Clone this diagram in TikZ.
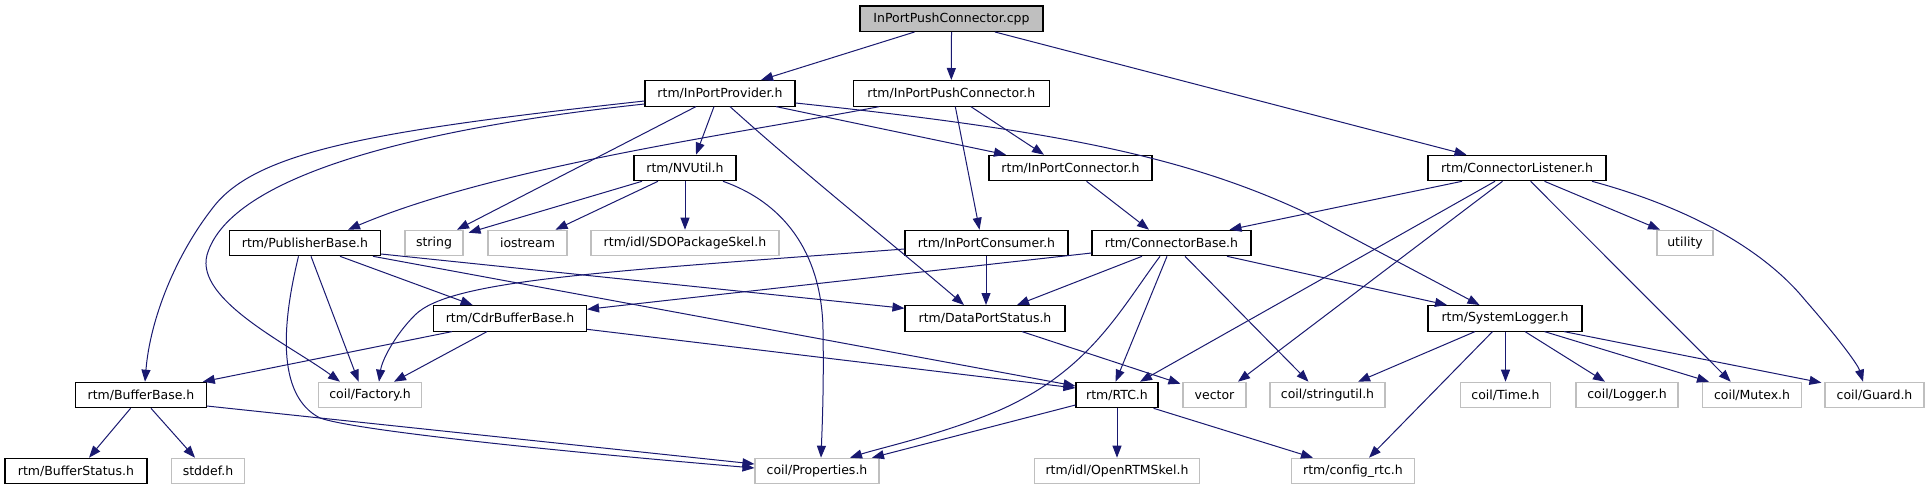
\documentclass[tikz,border=0pt]{standalone}
\usepackage{fontspec}
\newfontfamily\dvfont{DejaVu Sans}
\usetikzlibrary{arrows.meta}
\definecolor{mblue}{HTML}{191970}
\definecolor{extgray}{HTML}{BFBFBF}
\begin{document}
\begin{tikzpicture}[x=1pt,y=-1pt,
  box/.style={line width=1.1pt, minimum height=25.5pt, inner sep=0pt, font=\dvfont\fontsize{12.5}{15}\selectfont, text=black},
  doc/.style={box, draw=black, fill=white},
  ext/.style={box, draw=extgray, fill=white},
  root/.style={box, draw=black, fill=extgray},
  dep/.style={draw=mblue, line width=1pt, -{Triangle[length=12pt,width=9pt]}}]
\useasboundingbox[fill=white] (0,0) rectangle (1929,485);
% nodes
\node[root, minimum width=183pt] (cpp) at (951.5,18.7) {InPortPushConnector.cpp};
\node[doc, minimum width=150pt] (ipp) at (720,93.3) {rtm/InPortProvider.h};
\node[doc, minimum width=195.5pt] (ipch) at (951.3,93.3) {rtm/InPortPushConnector.h};
\node[doc, minimum width=102pt] (nvu) at (685,168) {rtm/NVUtil.h};
\node[doc, minimum width=163pt] (ipc) at (1070.5,168) {rtm/InPortConnector.h};
\node[doc, minimum width=178pt] (cl) at (1517,168) {rtm/ConnectorListener.h};
\node[doc, minimum width=151pt] (pb) at (305,243) {rtm/PublisherBase.h};
\node[ext, minimum width=58pt] (str) at (434,243) {string};
\node[ext, minimum width=79pt] (ios) at (527.5,243) {iostream};
\node[ext, minimum width=188pt] (sdo) at (685,243) {rtm/idl/SDOPackageSkel.h};
\node[doc, minimum width=163pt] (icons) at (986.5,243) {rtm/InPortConsumer.h};
\node[doc, minimum width=159pt] (cb) at (1171.5,243) {rtm/ConnectorBase.h};
\node[ext, minimum width=56pt] (util) at (1685,243) {utility};
\node[doc, minimum width=153pt] (cdr) at (510,318.3) {rtm/CdrBufferBase.h};
\node[doc, minimum width=160pt] (dps) at (985,318.3) {rtm/DataPortStatus.h};
\node[doc, minimum width=154pt] (sl) at (1505,318.3) {rtm/SystemLogger.h};
\node[doc, minimum width=130.5pt] (bb) at (141,395) {rtm/BufferBase.h};
\node[ext, minimum width=103pt] (fac) at (370,395) {coil/Factory.h};
\node[doc, minimum width=82pt] (rtc) at (1117,395) {rtm/RTC.h};
\node[ext, minimum width=63pt] (vec) at (1214.5,395) {vector};
\node[ext, minimum width=115pt] (su) at (1327.5,395) {coil/stringutil.h};
\node[ext, minimum width=90.6pt] (time) at (1505.5,395) {coil/Time.h};
\node[ext, minimum width=102pt] (log) at (1627,395) {coil/Logger.h};
\node[ext, minimum width=98.5pt] (mut) at (1752,395) {coil/Mutex.h};
\node[ext, minimum width=99pt] (grd) at (1874.5,395) {coil/Guard.h};
\node[doc, minimum width=142pt] (bs) at (76,471) {rtm/BufferStatus.h};
\node[ext, minimum width=73.6pt] (std) at (208,471) {stddef.h};
\node[ext, minimum width=124pt] (prop) at (817,471) {coil/Properties.h};
\node[ext, minimum width=165.6pt] (ortm) at (1117,471) {rtm/idl/OpenRTMSkel.h};
\node[ext, minimum width=123pt] (cfg) at (1353,471) {rtm/config\_rtc.h};
% edges
\draw[dep] ([xshift=-37]cpp.south) -- ([xshift=41]ipp.north);
\draw[dep] (cpp.south) -- (ipch.north);
\draw[dep] ([xshift=43.5]cpp.south) -- ([xshift=-50.5]cl.north);
\draw[dep] ([yshift=-7.7]ipp.west) .. controls (380,130) and (260,150) .. (215,205) .. controls (175,255) and (150,320) .. ([xshift=4]bb.north);
\draw[dep] ([yshift=-10.7]ipp.west) .. controls (420,128) and (230,175) .. (207,255) .. controls (195,300) and (290,345) .. ([xshift=-30]fac.north);
\draw[dep] ([xshift=-24]ipp.south) -- ([xshift=23]str.north);
\draw[dep] ([xshift=-6]ipp.south) -- ([xshift=11]nvu.north);
\draw[dep] ([xshift=10]ipp.south) .. controls (800,170) and (900,250) .. ([xshift=-21]dps.north);
\draw[dep] ([xshift=56]ipp.south) -- ([xshift=-64.5]ipc.north);
\draw[dep] ([yshift=-9.7]ipp.east) .. controls (1050,130) and (1180,155) .. (1300,210) -- ([xshift=-25.5]sl.north);
\draw[dep] ([xshift=-72]ipch.south) .. controls (760,130) and (500,165) .. ([xshift=43]pb.north);
\draw[dep] ([xshift=4]ipch.south) -- ([xshift=-7]icons.north);
\draw[dep] ([xshift=19.5]ipch.south) -- ([xshift=-26.5]ipc.north);
\draw[dep] ([xshift=-43]nvu.south) -- ([xshift=5,yshift=-3]str.north east);
\draw[dep] ([xshift=-27]nvu.south) -- ([xshift=28]ios.north);
\draw[dep] (nvu.south) -- (sdo.north);
\draw[dep] ([xshift=38]nvu.south) .. controls (790,205) and (822,260) .. (823,330) .. controls (824,390) and (822,430) .. ([xshift=4]prop.north);
\draw[dep] ([xshift=16]ipc.south) -- ([xshift=-22.5]cb.north);
\draw[dep] ([xshift=-55]cl.south) -- ([xshift=58]cb.north);
\draw[dep] ([xshift=-22]cl.south) -- ([xshift=23]rtc.north);
\draw[dep] ([xshift=-14.5]cl.south) -- ([xshift=23.5]vec.north);
\draw[dep] ([xshift=13.6]cl.south) -- ([xshift=-21.3]mut.north);
\draw[dep] ([xshift=27.5]cl.south) -- ([xshift=-25]util.north);
\draw[dep] ([xshift=75]cl.south) .. controls (1680,205) and (1760,245) .. (1805,300) .. controls (1840,340) and (1858,365) .. ([xshift=-11.5]grd.north);
\draw[dep] ([xshift=6]pb.south) -- ([xshift=-11.4]fac.north);
\draw[dep] ([xshift=-6.5]pb.south) .. controls (283,320) and (275,395) .. (320,418) .. controls (360,432) and (600,455) .. ([yshift=3]prop.west);
\draw[dep] ([xshift=35]pb.south) -- ([xshift=-37.4]cdr.north);
\draw[dep] ([yshift=-11]pb.east) -- ([yshift=10]dps.west);
\draw[dep] ([xshift=68]pb.south) -- ([yshift=9]rtc.west);
\draw[dep] ([yshift=-6]icons.west) .. controls (600,272) and (450,280) .. (415,315) .. controls (395,335) and (382,360) .. ([xshift=9]fac.north);
\draw[dep] ([xshift=-0.5]icons.south) -- ([xshift=1]dps.north);
\draw[dep] ([xshift=-58]cdr.south) -- ([xshift=-4]bb.north east);
\draw[dep] ([xshift=-23]cdr.south) -- ([xshift=24]fac.north);
\draw[dep] ([yshift=-11]cdr.east) -- ([yshift=7]rtc.west);
\draw[dep] ([xshift=-10.4]bb.south) -- ([xshift=13]bs.north);
\draw[dep] ([xshift=10]bb.south) -- ([xshift=-13]std.north);
\draw[dep] ([yshift=-11]bb.east) -- ([yshift=7]prop.west);
\draw[dep] ([yshift=-10]cb.west) -- ([yshift=9]cdr.east);
\draw[dep] ([xshift=-29.5]cb.south) -- ([xshift=32]dps.north);
\draw[dep] ([xshift=-11.5]cb.south) .. controls (1120,310) and (1090,370) .. (1000,410) .. controls (940,435) and (880,448) .. ([xshift=33]prop.north);
\draw[dep] ([xshift=-4.5]cb.south) -- ([xshift=-1.4]rtc.north);
\draw[dep] ([xshift=13.5]cb.south) -- ([xshift=-19]su.north);
\draw[dep] ([xshift=55.5]cb.south) -- ([xshift=-58]sl.north);
\draw[dep] ([xshift=37]dps.south) -- ([xshift=-2,yshift=-2]vec.north west);
\draw[dep] ([yshift=-10]rtc.west) -- ([xshift=55]prop.north);
\draw[dep] (rtc.south) -- (ortm.north);
\draw[dep] ([xshift=36.6]rtc.south) -- ([xshift=-40]cfg.north);
\draw[dep] ([xshift=-30]sl.south) -- ([xshift=30.5]su.north);
\draw[dep] ([xshift=-12.5]sl.south) -- ([xshift=16]cfg.north);
\draw[dep] ([xshift=0.5]sl.south) -- (time.north);
\draw[dep] ([xshift=20]sl.south) -- ([xshift=-22]log.north);
\draw[dep] ([xshift=39.5]sl.south) -- ([xshift=-43]mut.north);
\draw[dep] ([xshift=59]sl.south) -- ([xshift=-3,yshift=-1]grd.north west);
\end{tikzpicture}
\end{document}
